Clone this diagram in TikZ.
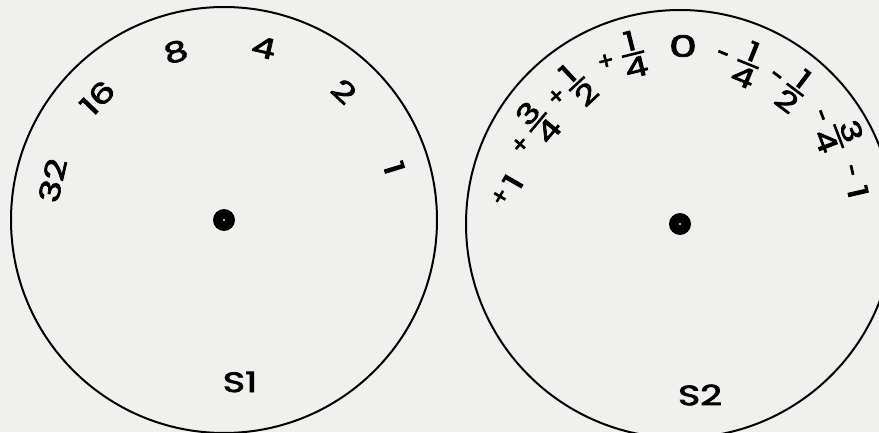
\documentclass[tikz,border=0pt]{standalone}
\usepackage{graphicx}
\usepackage{fontspec}
\setmainfont{Poppins}[FakeBold=2.5]
\definecolor{paper}{RGB}{240,240,239}
\newcommand{\wide}[1]{\scalebox{1.35}[1]{#1}}
\newcommand{\fr}[2]{\ensuremath{\vcenter{\offinterlineskip\halign{\hfil##\hfil\cr\kern2pt\wide{#1}\kern2pt\cr\noalign{\kern2.5pt\hrule height2.6pt\kern2.5pt}\wide{#2}\cr}}}}
\newcommand{\dash}{\rule{10pt}{2.8pt}}
\begin{document}
\begin{tikzpicture}[x=1pt,y=1pt,
  lbl/.style={font=\fontsize{28}{30}\selectfont, inner sep=0pt},
  flbl/.style={font=\fontsize{27}{29}\selectfont, inner sep=0pt},
  sgn/.style={font=\fontsize{24}{24}\selectfont, inner sep=0pt},
  msg/.style={inner sep=0pt},
  disk/.style={draw=black, line width=2pt},
  hub/.style={fill=black, circle, minimum size=22pt, inner sep=0pt}]
\useasboundingbox (0,0) rectangle (879,432);
\fill[paper] (0,0) rectangle (879,432);
\clip (0,0) rectangle (879,432);
\coordinate (c1) at (224,212);
\coordinate (c2) at (680,208);
% left disk
\draw[disk] (c1) circle[radius=213];
\node[hub] (h1) at (c1) {};
\fill[paper] (h1.center) circle[radius=1.2];
\node[lbl, rotate=77]  (l32) at ([shift={(167:176)}]c1) {\wide{32}};
\node[lbl, rotate=46]  (l16) at ([shift={(136:176)}]c1) {\wide{16}};
\node[lbl, rotate=16]  (l8)  at ([shift={(106:175)}]c1) {\wide{8}};
\node[lbl, rotate=-13] (l4)  at ([shift={(77:177)}]c1) {\wide{4}};
\node[lbl, rotate=-43] (l2)  at ([shift={(47:176)}]c1) {\wide{2}};
\node[lbl, rotate=-73] (l1)  at ([shift={(17:178)}]c1) {\wide{1}};
\node[lbl] (s1) at (240,50) {\wide{S1}};
% right disk
\draw[disk] (c2) circle[radius=214];
\node[hub] (h2) at (c2) {};
\fill[paper] (h2.center) circle[radius=1.2];
% +1
\node[sgn, rotate=60] (p1s) at (501,235) {+};
\node[lbl, rotate=60] (p1)  at (513,250) {\wide{1}};
% +3/4
\node[sgn, rotate=50]  (p34s) at (521,287) {+};
\node[flbl, rotate=50] (p34)  at (538,310) {\fr{3}{4}};
% +1/2
\node[sgn, rotate=43]  (p12s) at (557,335) {+};
\node[flbl, rotate=43] (p12)  at (577,348) {\fr{1}{2}};
% +1/4
\node[sgn, rotate=14]  (p14s) at (606,370) {+};
\node[flbl, rotate=14] (p14)  at (633,378) {\fr{1}{4}};
% 0
\node[lbl] (z0) at (683,386) {\scalebox{1.6}[1.05]{0}};
% -1/4
\node[msg, rotate=-22]  (m14s) at (723,379) {\dash};
\node[flbl, rotate=-22] (m14)  at (748,368) {\fr{1}{4}};
% -1/2
\node[msg, rotate=-37]  (m12s) at (777,357) {\dash};
\node[flbl, rotate=-37] (m12)  at (795,342) {\fr{1}{2}};
% -3/4
\node[msg, rotate=-69]  (m34s) at (822,317) {\dash};
\node[flbl, rotate=-69] (m34)  at (839,296) {\fr{3}{4}};
% -1
\node[msg, rotate=-77] (m1s) at (852,262) {\dash};
\node[lbl, rotate=-77] (m1)  at (858,240) {\wide{1}};
\node[lbl] (s2) at (700,37) {\wide{S2}};
\end{tikzpicture}
\end{document}
